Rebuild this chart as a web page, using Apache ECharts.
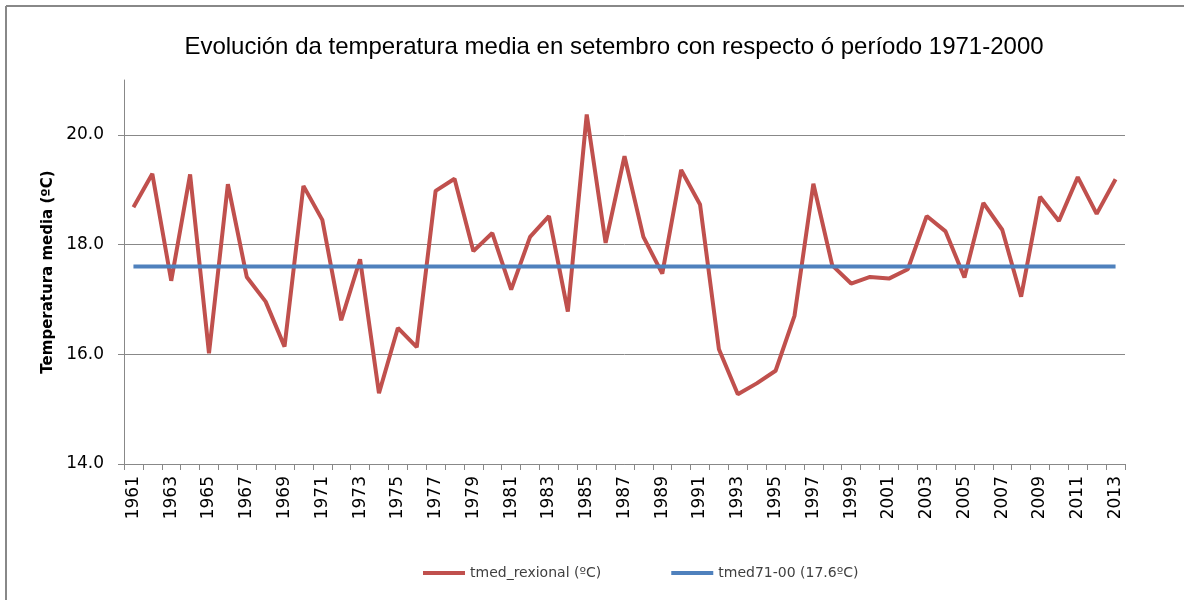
<!DOCTYPE html>
<html>
<head>
<meta charset="utf-8">
<script src="https://cdn.jsdelivr.net/npm/echarts@6/dist/echarts.min.js"></script>
<style>
html,body{margin:0;padding:0;background:#fff;}
#chart{width:1184px;height:600px;}
</style>
</head>
<body>
<div id="chart"></div>
<script>
const years = ['1961','1962','1963','1964','1965','1966','1967','1968','1969','1970',
  '1971','1972','1973','1974','1975','1976','1977','1978','1979','1980',
  '1981','1982','1983','1984','1985','1986','1987','1988','1989','1990',
  '1991','1992','1993','1994','1995','1996','1997','1998','1999','2000',
  '2001','2002','2003','2004','2005','2006','2007','2008','2009','2010',
  '2011','2012','2013'];
const tmedRexional = [18.68,19.29,17.34,19.28,16.02,19.10,17.41,16.96,16.14,19.07,
  18.45,16.62,17.73,15.29,16.48,16.13,18.98,19.20,17.88,18.21,
  17.18,18.14,18.52,16.78,20.37,18.03,19.61,18.14,17.47,19.36,
  18.73,16.09,15.27,15.47,15.70,16.70,19.11,17.62,17.29,17.41,
  17.38,17.55,18.52,18.24,17.40,18.76,18.27,17.05,18.87,18.43,
  19.23,18.56,19.19];
const tmed7100 = [17.6,17.6,17.6,17.6,17.6,17.6,17.6,17.6,17.6,17.6,
  17.6,17.6,17.6,17.6,17.6,17.6,17.6,17.6,17.6,17.6,
  17.6,17.6,17.6,17.6,17.6,17.6,17.6,17.6,17.6,17.6,
  17.6,17.6,17.6,17.6,17.6,17.6,17.6,17.6,17.6,17.6,
  17.6,17.6,17.6,17.6,17.6,17.6,17.6,17.6,17.6,17.6,
  17.6,17.6,17.6];
const yTicks = [14, 16, 18, 20];
const seriesNames = ['tmed_rexional (ºC)', 'tmed71-00 (17.6ºC)'];
const titleText = 'Evolución da temperatura media en setembro con respecto ó período 1971-2000';
const yAxisTitle = 'Temperatura media (ºC)';

const chart = echarts.init(document.getElementById('chart'), null, {renderer: 'canvas'});
chart.setOption({
  animation: false,
  backgroundColor: '#fff',
  title: {
    text: titleText,
    left: 609, top: 30, textAlign: 'center',
    textStyle: {fontFamily: 'Liberation Sans', fontSize: 24, fontWeight: 'normal', color: '#000'}
  },
  graphic: [
    {type: 'line', shape: {x1: 6, y1: 6, x2: 1184, y2: 6}, style: {stroke: '#888', lineWidth: 2}},
    {type: 'line', shape: {x1: 6, y1: 6, x2: 6, y2: 600}, style: {stroke: '#888', lineWidth: 2}}
  ],
  legend: {
    left: 418, top: 561,
    itemWidth: 42, itemHeight: 4, itemGap: 70,
    icon: 'rect',
    textStyle: {fontFamily: 'DejaVu Sans', fontSize: 14, color: '#404040'},
    data: seriesNames
  },
  grid: {left: 124, right: 59, top: 80, bottom: 136, containLabel: false},
  xAxis: {
    type: 'category',
    data: years,
    boundaryGap: true,
    axisLine: {lineStyle: {color: '#888', width: 1}},
    axisTick: {show: true, interval: 0, length: 6, inside: false, lineStyle: {color: '#888'}},
    axisLabel: {interval: 1, rotate: 90, margin: 12, fontFamily: 'DejaVu Sans', fontSize: 17, color: '#000'},
    splitLine: {show: false}
  },
  yAxis: {
    type: 'value',
    min: 14, max: 21, interval: 2,
    name: yAxisTitle,
    nameLocation: 'middle',
    nameGap: 64,
    nameRotate: 90,
    nameTextStyle: {fontFamily: 'DejaVu Sans', fontSize: 15, fontWeight: 'bold', color: '#000'},
    axisLine: {show: true, lineStyle: {color: '#888', width: 1}},
    axisTick: {show: true, length: 6, customValues: yTicks, lineStyle: {color: '#888'}},
    axisLabel: {customValues: yTicks, margin: 20, fontFamily: 'DejaVu Sans', fontSize: 17, color: '#000',
      formatter: v => v.toFixed(1)},
    splitLine: {show: true, lineStyle: {color: ['#888','#888','#888','#888','rgba(0,0,0,0)'], width: 1}}
  },
  series: [
    {
      name: seriesNames[0], type: 'line', data: tmedRexional,
      symbol: 'none', color: '#C0504D',
      lineStyle: {width: 4, color: '#C0504D'}, z: 3
    },
    {
      name: seriesNames[1], type: 'line', data: tmed7100,
      symbol: 'none', color: '#4F81BD',
      lineStyle: {width: 4, color: '#4F81BD'}, z: 4
    }
  ]
});
</script>
</body>
</html>
